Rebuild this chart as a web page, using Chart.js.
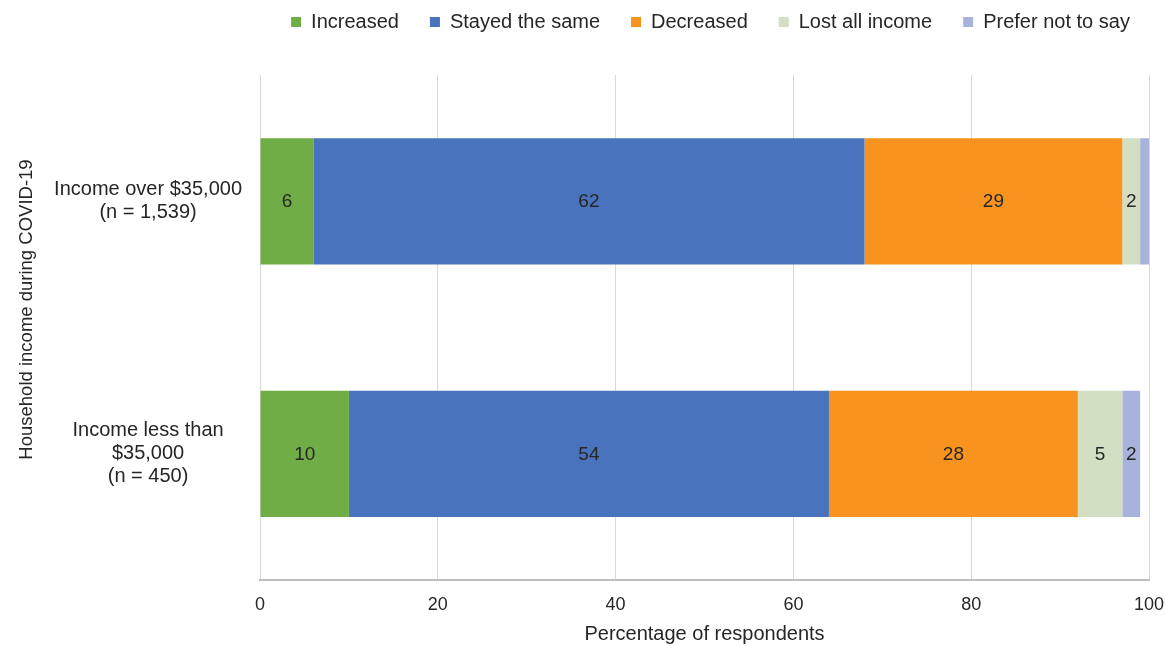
<!DOCTYPE html>
<html>
<head>
<meta charset="utf-8">
<title>Household income during COVID-19</title>
<script src="https://cdn.jsdelivr.net/npm/chart.js@4.4.1/dist/chart.umd.min.js"></script>
<style>
  html, body { margin: 0; padding: 0; background: #ffffff; }
  #wrap { width: 1166px; height: 646px; position: relative; }
</style>
</head>
<body>
<div id="wrap"><canvas id="chart" width="1166" height="646"></canvas></div>
<script>
// Income groups (multi-line axis labels)
const categories = [
  ['Income over $35,000', '(n = 1,539)'],
  ['Income less than', '$35,000', '(n = 450)']
];

// Share of respondents per group, in percent
const increased      = [6, 10];
const stayedTheSame  = [62, 54];
const decreased      = [29, 28];
const lostAllIncome  = [2, 5];
const preferNotToSay = [1, 2];

const xTicks = [0, 20, 40, 60, 80, 100];

const FONT = "'Liberation Sans', Arial, sans-serif";
const TEXT = '#262626';

// Writes each segment's value in the middle of its bar
const segmentLabels = {
  id: 'segmentLabels',
  afterDatasetsDraw(chart) {
    const ctx = chart.ctx;
    ctx.save();
    ctx.font = '19px ' + FONT;
    ctx.fillStyle = TEXT;
    ctx.textAlign = 'center';
    ctx.textBaseline = 'middle';
    chart.data.datasets.forEach((ds, di) => {
      const meta = chart.getDatasetMeta(di);
      meta.data.forEach((bar, i) => {
        const v = ds.data[i];
        if (v < 2) return;
        const p = bar.getProps(['x', 'base', 'y'], true);
        ctx.fillText(String(v), (p.x + p.base) / 2, p.y + 1);
      });
    });
    ctx.restore();
  }
};

// Places the legend row above the plot area
const legendPlacement = {
  id: 'legendPlacement',
  afterLayout(chart) {
    const lg = chart.legend;
    if (!lg) return;
    const dx = 136, dy = -33;
    lg.left += dx; lg.right += dx;
    lg.top += dy; lg.bottom += dy;
  }
};

new Chart(document.getElementById('chart'), {
  type: 'bar',
  data: {
    labels: categories,
    datasets: [
      { label: 'Increased',         data: increased,      backgroundColor: '#70AD47' },
      { label: 'Stayed the same',   data: stayedTheSame,  backgroundColor: '#4A73BE' },
      { label: 'Decreased',         data: decreased,      backgroundColor: '#F7931E' },
      { label: 'Lost all income',   data: lostAllIncome,  backgroundColor: '#D3DFC3' },
      { label: 'Prefer not to say', data: preferNotToSay, backgroundColor: '#A8B3DB' }
    ]
  },
  options: {
    indexAxis: 'y',
    responsive: false,
    animation: false,
    devicePixelRatio: 1,
    datasets: { bar: { barPercentage: 0.5, categoryPercentage: 1.0, borderWidth: 0 } },
    layout: { padding: { top: 14, right: 17, bottom: 0, left: 0 } },
    scales: {
      x: {
        stacked: true,
        min: 0,
        max: 100,
        afterBuildTicks(scale) { scale.ticks = xTicks.map(v => ({ value: v })); },
        afterFit(scale) {
          scale.height = 66;
          scale.paddingLeft = 0;
          scale.paddingRight = 0;
        },
        grid: { color: '#D9D9D9', lineWidth: 1, drawTicks: false },
        border: { display: true, color: '#BFBFBF', width: 2 },
        ticks: { color: TEXT, font: { family: FONT, size: 18 }, padding: 14, maxRotation: 0 },
        title: {
          display: true,
          text: 'Percentage of respondents',
          color: TEXT,
          font: { family: FONT, size: 20 },
          padding: { top: 0, bottom: 0 }
        }
      },
      y: {
        stacked: true,
        afterFit(scale) { scale.width = 260; },
        grid: { display: false, drawTicks: false },
        border: { display: false },
        ticks: {
          color: TEXT,
          font: { family: FONT, size: 20, lineHeight: 1.15 },
          padding: 18,
          crossAlign: 'center'
        },
        title: {
          display: true,
          text: '       Household income during COVID-19',
          color: TEXT,
          font: { family: FONT, size: 18.5 },
          padding: { top: 16, bottom: 0 }
        }
      }
    },
    plugins: {
      legend: {
        position: 'top',
        align: 'center',
        labels: {
          color: TEXT,
          font: { family: FONT, size: 20 },
          boxWidth: 10,
          boxHeight: 10,
          padding: 31
        }
      },
      tooltip: { enabled: false }
    }
  },
  plugins: [segmentLabels, legendPlacement]
});
</script>
</body>
</html>
